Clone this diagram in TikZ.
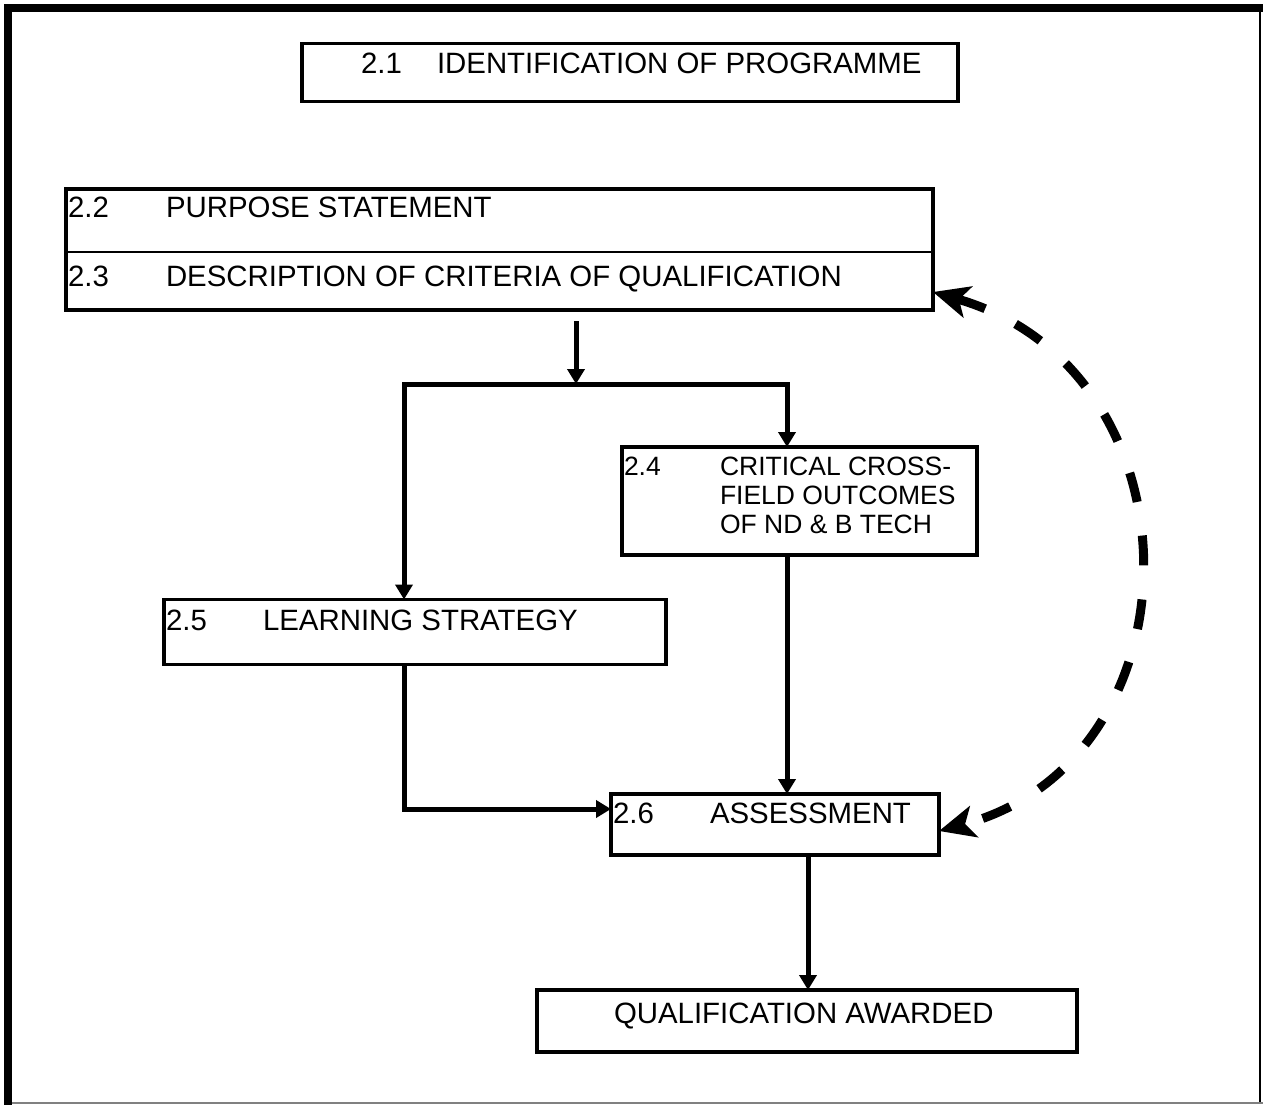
\documentclass[tikz,border=0pt]{standalone}
\usepackage{fontspec}
\setmainfont{Liberation Sans}
\usetikzlibrary{arrows.meta,calc}
\begin{document}
\begin{tikzpicture}[x=1pt,y=-1pt,
  box/.style={draw,line width=3.5pt,rectangle,inner sep=0pt,outer sep=0pt},
  lbl/.style={anchor=base west,inner sep=0pt,outer sep=0pt,font=\fontsize{29.4}{34}\selectfont},
  slbl/.style={anchor=base west,inner sep=0pt,outer sep=0pt,font=\fontsize{26.5}{29}\selectfont},
  conn/.style={line width=5pt,-{Triangle[length=15pt,width=17pt]}},
  dasharr/.style={line width=9pt,dash pattern=on 30pt off 34pt,
    {Stealth[length=36pt,width=32pt,inset=9pt]}-{Stealth[length=36pt,width=32pt,inset=9pt]}}
]
\useasboundingbox (0,0) rectangle (1263,1104);
\fill[white] (0,0) rectangle (1263,1104);
% outer frame
\draw[line width=8pt,line cap=rect] (8,1104) -- (8,8) -- (1260,8);
\draw[line width=2pt] (1260,8) -- (1260,1104);
\draw[gray,line width=1.5pt] (12,1103) -- (1263,1103);

% boxes
\node[box,minimum width=656pt,minimum height=58pt] (b21) at (630,72.5) {};
\node[box,minimum width=867pt,minimum height=121pt] (b223) at (499.5,249.5) {};
\draw[line width=1.5pt] (b223.west |- 0,252) -- (b223.east |- 0,252);
\node[box,minimum width=355pt,minimum height=108pt] (b24) at (799.5,501) {};
\node[box,minimum width=502pt,minimum height=65pt] (b25) at (415,632) {};
\node[box,minimum width=328pt,minimum height=61pt] (b26) at (775,824.5) {};
\node[box,minimum width=540pt,minimum height=62pt] (qa) at (807,1021) {};

% texts
\node[lbl] (t21n) at (361,73) {2.1};
\node[lbl] (t21) at (437,73) {IDENTIFICATION OF PROGRAMME};
\node[lbl] (t22n) at (68,217) {2.2};
\node[lbl] (t22) at (166,217) {PURPOSE STATEMENT};
\node[lbl] (t23n) at (68,286) {2.3};
\node[lbl] (t23) at (166,286) {DESCRIPTION OF CRITERIA OF QUALIFICATION};
\node[slbl] (t24n) at (624,475) {2.4};
\node[slbl] (t24a) at (720,475) {CRITICAL CROSS-};
\node[slbl] (t24b) at (720,504) {FIELD OUTCOMES};
\node[slbl] (t24c) at (720,533) {OF ND \& B TECH};
\node[lbl] (t25n) at (166,630) {2.5};
\node[lbl] (t25) at (263,630) {LEARNING STRATEGY};
\node[lbl] (t26n) at (613,823) {2.6};
\node[lbl] (t26) at (710,823) {ASSESSMENT};
\node[lbl] (tqa) at (614,1023) {QUALIFICATION AWARDED};

% helper coordinates
\coordinate (a0) at (576,321);
\coordinate (split) at (576,384);
\coordinate (lx) at (404,0);
\coordinate (rx) at (787,0);
\coordinate (ay) at (0,809);
\coordinate (qx) at (808,0);
\coordinate (dt) at (0,292);
\coordinate (db) at (0,831);

% connectors
\draw[conn] (a0) -- (split);
\draw[conn] (split) -| (lx |- b25.north);
\draw[conn] (split) -| (rx |- b24.north);
\draw[conn] (lx |- b25.south) |- (b26.west |- ay);
\draw[conn] (rx |- b24.south) -- (rx |- b26.north);
\draw[conn] (qx |- b26.south) -- (qx |- qa.north);

% dashed feedback arc
\draw[dasharr] (b223.east |- dt) .. controls (1205,370) and (1205,760) .. (b26.east |- db);
\end{tikzpicture}
\end{document}
